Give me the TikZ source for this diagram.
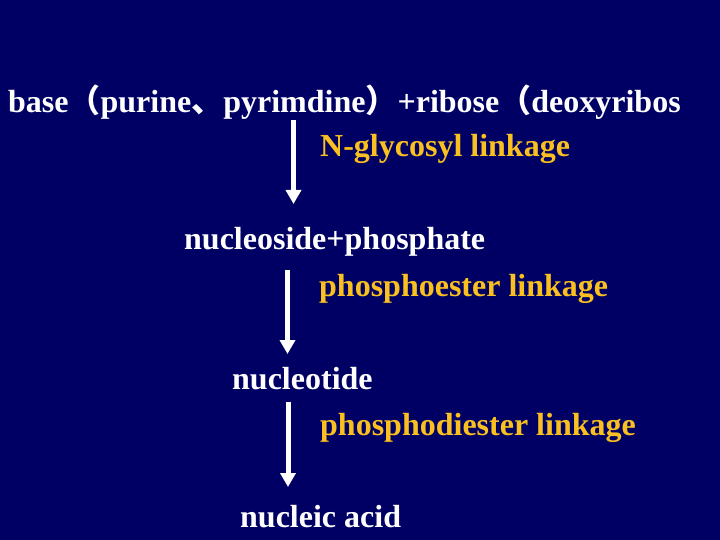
\documentclass[tikz,border=0pt]{standalone}
\usepackage{fontspec}
\setmainfont{Liberation Serif}
\newfontfamily\cjk{Noto Sans CJK SC}
\usetikzlibrary{arrows.meta}
\definecolor{slidebg}{RGB}{0,0,100}
\definecolor{linkyellow}{RGB}{250,192,32}

\begin{document}
\begin{tikzpicture}[x=1pt,y=-1pt,
    step text/.style={anchor=base west, inner sep=0pt, text=white,
      font=\fontsize{32}{38}\selectfont\bfseries},
    link text/.style={step text, text=linkyellow},
    flow/.style={draw=white, line width=5pt,
      -{Triangle[width=15pt,length=14pt]}}]
    % Draw the slide background
    \fill[slidebg] (0,0) rectangle (720,540);
    \useasboundingbox (0,0) rectangle (720,540);
    % Draw the chain of compounds
    \node[step text] (base) at (8,113) {base{\cjk（}purine{\cjk、}pyrimdine{\cjk）}+ribose{\cjk（}deoxyribos};
    \node[step text] (nucleoside) at (184,249) {nucleoside+phosphate};
    \node[step text] (nucleotide) at (232,389) {nucleotide};
    \node[step text] (nucleic) at (240,527) {nucleic acid};
    % Draw the linkage labels
    \node[link text] (glyco) at (320,157) {N-glycosyl linkage};
    \node[link text] (phospho) at (319,296) {phosphoester linkage};
    \node[link text] (diester) at (320,435) {phosphodiester linkage};
    % Draw the arrows between the steps
    \coordinate (a1top) at (293.5,120);
    \coordinate (a1tip) at (293.5,204);
    \coordinate (a2top) at (287.5,270);
    \coordinate (a2tip) at (287.5,354);
    \coordinate (a3top) at (288,402);
    \coordinate (a3tip) at (288,487);
    \draw[flow] (a1top) -- (a1tip);
    \draw[flow] (a2top) -- (a2tip);
    \draw[flow] (a3top) -- (a3tip);
\end{tikzpicture}
\end{document}
